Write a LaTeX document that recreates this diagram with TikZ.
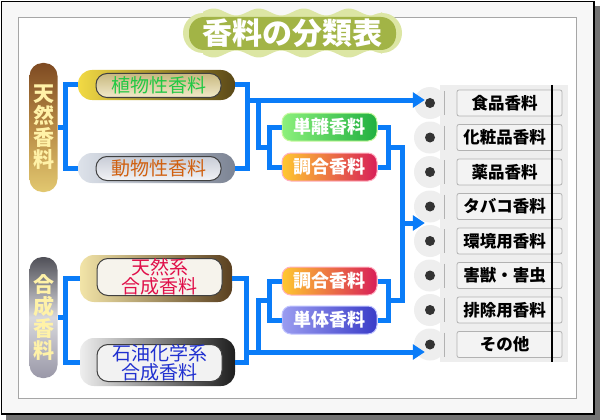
\documentclass[tikz,border=0pt]{standalone}
\usepackage{fontspec}
\setmainfont{Noto Sans CJK JP}
\usetikzlibrary{arrows.meta}
\definecolor{cblue}{HTML}{0A7CF8}
\definecolor{vtxt}{HTML}{FFF2A8}
\definecolor{listbg}{HTML}{EEEEEE}
\definecolor{boxbg}{HTML}{F3F3F3}
\definecolor{tgreen}{HTML}{22C844}
\definecolor{torange}{HTML}{D06010}
\definecolor{tred}{HTML}{E0104A}
\definecolor{tblue}{HTML}{2030D0}
\definecolor{banF}{HTML}{A2B446}
\definecolor{banE}{HTML}{DCE6A4}
\definecolor{brT}{HTML}{7E4A22}
\definecolor{brM}{HTML}{B88A45}
\definecolor{brB}{HTML}{E2C870}
\definecolor{grT}{HTML}{505058}
\definecolor{grM}{HTML}{D8D8DC}
\definecolor{grB}{HTML}{9A98A8}
\definecolor{goL}{HTML}{F2DA44}
\definecolor{goR}{HTML}{5A4818}
\definecolor{goiT}{HTML}{C8B880}
\definecolor{goiB}{HTML}{F2EACA}
\definecolor{siL}{HTML}{DDE2EA}
\definecolor{siR}{HTML}{7C8494}
\definecolor{siiT}{HTML}{C8CCD6}
\definecolor{siiB}{HTML}{F2F3F6}
\definecolor{tkL}{HTML}{F2E4A8}
\definecolor{tkR}{HTML}{5A4020}
\definecolor{tkI}{HTML}{F6F3EC}
\definecolor{skL}{HTML}{EEEEEE}
\definecolor{skR}{HTML}{1E1E1E}
\definecolor{skI}{HTML}{F2F2F2}
\definecolor{tnL}{HTML}{8CF07C}
\definecolor{tnR}{HTML}{20B040}
\definecolor{tnE}{HTML}{C8F8A0}
\definecolor{cgL}{HTML}{FFC830}
\definecolor{cgR}{HTML}{D81E58}
\definecolor{cgE}{HTML}{FFB0C0}
\definecolor{ttL}{HTML}{9A9CF0}
\definecolor{ttR}{HTML}{3A3CC8}
\definecolor{ttE}{HTML}{C0C4FF}
\begin{document}
\begin{tikzpicture}[x=1pt,y=-1pt,
  conn/.style={draw=cblue,line width=5pt},
  arr/.style={conn,-{Triangle[length=12pt,width=15pt]}},
  vpill/.style={rounded corners=13pt,minimum width=28pt,inner sep=0pt,align=center,
    font=\fontsize{21}{22}\selectfont\bfseries,text=vtxt},
  outerpill/.style={rounded corners=14pt,inner sep=0pt},
  innerpill/.style={rounded corners=11pt,minimum width=125pt,inner sep=0pt,align=center,
    draw=black!75,line width=1pt,font=\fontsize{19}{19}\selectfont},
  smallpill/.style={rounded corners=9pt,minimum width=95pt,minimum height=28pt,inner sep=0pt,
    font=\fontsize{18}{18}\selectfont\bfseries,text=white,line width=1pt},
  dot/.style={circle,fill=black!80,minimum size=10pt,inner sep=0pt},
  listbox/.style={rounded corners=2pt,fill=boxbg,draw=black!30,line width=0.8pt,
    minimum width=105pt,minimum height=26pt,inner sep=0pt},
  listtxt/.style={font=\fontsize{16.5}{16.5}\selectfont\bfseries,text=black,inner sep=0pt}
]
\useasboundingbox (0,0) rectangle (600,420);
% frame
\fill[black!55] (6,6) rectangle (600,420);
\filldraw[fill=black!3,draw=black,line width=1.2pt] (1.5,1.5) rectangle (594,414);
\filldraw[fill=white,draw=black!35,line width=0.8pt] (18,17) rectangle (576,398);

% title banner
\fill[banE] plot[domain=203:382,samples=60] (\x,{12+3.5*sin(8*\x)})
  -- plot[domain=382:203,samples=60] (\x,{54+3.5*sin(8*\x+180)}) -- cycle;
\fill[banE] (203,33) circle (20);
\fill[banE] (382,33) circle (20);
\fill[banF, rounded corners=15pt] (189,17) rectangle (396,50);
\node[font=\fontsize{30}{32}\selectfont\bfseries,text=white] (title) at (292,33) {香料の分類表};

% list column
\fill[listbg] (440,85) rectangle (568,362);
\foreach \yy in {103,137.5,172,206.5,241,275.5,310,344.5}{
  \fill[listbg] (430,\yy) circle (16);
  \draw[black!30,line width=1pt] (444,\yy-12) -- (444,\yy+12);
}
\foreach \yy/\nm/\tx in {103/1/食品香料,137.5/2/化粧品香料,172/3/薬品香料,206.5/4/タバコ香料,
  241/5/環境用香料,275.5/6/害獣・害虫,310/7/排除用香料,344.5/8/その他}{
  \node[dot] (d\nm) at (430,\yy) {};
  \node[listbox] (b\nm) at (509.5,\yy) {};
  \node[listtxt] (t\nm) at (504.5,\yy) {\tx};
}
\draw[black,line width=2.2pt] (552,85) -- (552,362);

% vertical pills
\node[vpill,minimum height=129pt,top color=brT,bottom color=brB,middle color=brM] (tennen) at (43.5,127.5) {天\\然\\香\\料};
\node[vpill,minimum height=121pt,top color=grT,bottom color=grB,middle color=grM] (gosei) at (43.5,317.5) {合\\成\\香\\料};

% natural pills
\node[outerpill,minimum width=157pt,minimum height=30pt,left color=goL,right color=goR] (shokuO) at (156.5,85) {};
\node[innerpill,minimum height=24pt,top color=goiT,bottom color=goiB,text=tgreen] (shoku) at (158.5,85.5) {植物性香料};
\node[outerpill,minimum width=157pt,minimum height=30pt,left color=siL,right color=siR] (doO) at (156.5,168) {};
\node[innerpill,minimum height=24pt,top color=siiT,bottom color=siiB,text=torange] (dobu) at (158.5,168.5) {動物性香料};

% synthetic pills
\node[outerpill,minimum width=152pt,minimum height=47pt,left color=tkL,right color=tkR] (tenkeiO) at (156,278.5) {};
\node[innerpill,minimum height=37pt,fill=tkI,text=tred] (tenkei) at (159.5,277) {天然系\\合成香料};
\node[outerpill,minimum width=155pt,minimum height=48pt,left color=skL,right color=skR] (sekiyuO) at (157.5,362) {};
\node[innerpill,minimum height=37pt,fill=skI,text=tblue] (sekiyu) at (159.5,363) {石油化学系\\合成香料};

% small pills
\node[smallpill,left color=tnL,right color=tnR,draw=tnE] (tanri) at (329.5,127) {単離香料};
\node[smallpill,left color=cgL,right color=cgR,draw=cgE] (chogoA) at (329.5,167) {調合香料};
\node[smallpill,left color=cgL,right color=cgR,draw=cgE] (chogoB) at (329.5,281) {調合香料};
\node[smallpill,left color=ttL,right color=ttR,draw=ttE] (tantai) at (329.5,320) {単体香料};

% coordinates
\coordinate (jA) at (245,100);
\coordinate (jAb) at (258,100);
\coordinate (jB) at (246,352);
\coordinate (jBb) at (258,352);
\coordinate (jM) at (402,223);

% left brackets
\draw[conn] (tennen.east) -- ++(9,0);
\draw[conn] (shokuO.west) -- ++(-12,0) |- (doO.west);
\draw[conn] (gosei.east) -- ++(9,0);
\draw[conn] (tenkeiO.west) -- ++(-14,0) |- (sekiyuO.west);

% right of natural pills
\draw[conn] (shokuO.east) -- ++(12,0) |- (doO.east);
\draw[arr] (jA) -- (jA -| d1.west);
\draw[conn] (jAb) |- (270,147);
\draw[conn] (tanri.west) -- ++(-12,0) |- (chogoA.west);

% right of synthetic pills
\draw[conn] (tenkeiO.east) -- ++(14,0) |- (sekiyuO.east);
\draw[arr] (jB) -- (jB -| d8.west);
\draw[conn] (jBb) |- (270,300.5);
\draw[conn] (chogoB.west) -- ++(-12,0) |- (tantai.west);

% right of small pills
\draw[conn] (tanri.east) -- ++(11,0) |- (chogoA.east);
\draw[conn] (chogoB.east) -- ++(11,0) |- (tantai.east);
\draw[conn] (388,147) -| (402,300.5) -- (388,300.5);
\draw[arr] (jM) -- (jM -| d5.west);
\end{tikzpicture}
\end{document}
